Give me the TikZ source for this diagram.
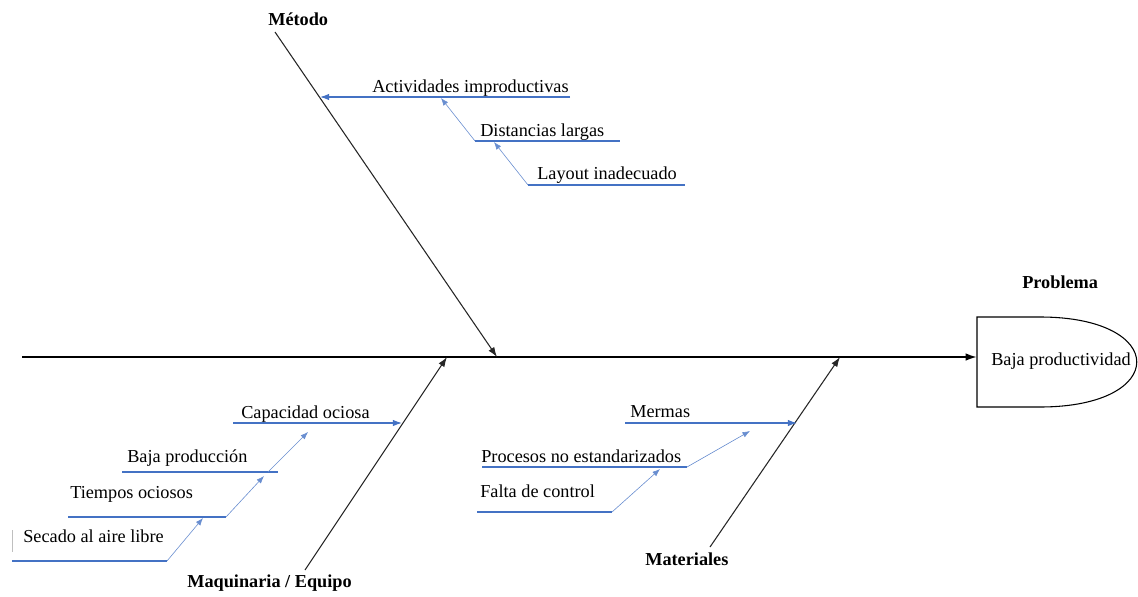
\documentclass[tikz,border=0pt]{standalone}
\usepackage{fontspec}
\setmainfont{Liberation Serif}
\usetikzlibrary{arrows.meta,positioning}
\definecolor{twigblue}{RGB}{68,114,196}
\tikzset{
  cat/.style={font=\fontsize{13.7}{16}\selectfont\bfseries, inner sep=0pt, anchor=base west},
  cause/.style={font=\fontsize{13.7}{16}\selectfont, inner sep=0pt, anchor=base west},
  spine/.style={-{Latex[length=3mm,width=2mm]}, line width=1.4pt},
  bone/.style={-{Latex[length=2.6mm,width=1.8mm]}, line width=0.8pt, black!85},
  twig/.style={-{Latex[length=2.4mm,width=1.7mm]}, line width=0.8pt, twigblue},
  sub/.style={-{Latex[length=2mm,width=1.5mm]}, line width=0.45pt, twigblue!80},
  uline/.style={line width=0.8pt, twigblue}
}

\begin{document}
\begin{tikzpicture}[x=0.75pt, y=-0.75pt]
\useasboundingbox (0,0) rectangle (1138,596);

% head of the fish
\node[cat] (prob) at (1022,288) {Problema};
\draw[line width=0.8pt] (977,317) -- (1040,317) .. controls (1169,317) and (1169,407) .. (1040,407) -- (977,407) -- cycle;
\node[cause] (head) at (991,365) {Baja productividad};
\coordinate (tail) at (22,357);
\coordinate (head-w) at (977,357);
\draw[spine] (tail) -- (head-w);

% main bones
\coordinate (met-0) at (275,32);  \coordinate (met-1) at (497,357);
\coordinate (maq-0) at (305,570); \coordinate (maq-1) at (447,357);
\coordinate (mat-0) at (710,547); \coordinate (mat-1) at (840,357);
\draw[bone] (met-0) -- (met-1);
\draw[bone] (maq-0) -- (maq-1);
\draw[bone] (mat-0) -- (mat-1);
\node[cat] (met) at (268,25) {Método};
\node[cat] (maq) at (187,587) {Maquinaria / Equipo};
\node[cat] (mat) at (645,565) {Materiales};

% Metodo
\node[cause] (act) at (372,92) {Actividades improductivas};
\node[cause] (dis) at (480,136) {Distancias largas};
\node[cause] (lay) at (537,179) {Layout inadecuado};
\coordinate (act-l) at (320,97);  \coordinate (act-r) at (570,97);
\coordinate (dis-l) at (475,141); \coordinate (dis-r) at (620,141);
\coordinate (lay-l) at (528,185); \coordinate (lay-r) at (685,185);
\coordinate (dis-tip) at (441,98); \coordinate (lay-tip) at (494,142);
\draw[twig] (act-r) -- (act-l);
\draw[uline] (dis-l) -- (dis-r);
\draw[uline] (lay-l) -- (lay-r);
\draw[sub] (dis-l) -- (dis-tip);
\draw[sub] (lay-l) -- (lay-tip);

% Maquinaria / Equipo
\node[cause] (cap) at (241,418) {Capacidad ociosa};
\node[cause] (baj) at (127,462) {Baja producción};
\node[cause] (tie) at (70,498) {Tiempos ociosos};
\node[cause] (sec) at (23,542) {Secado al aire libre};
\coordinate (cap-l) at (233,423); \coordinate (cap-r) at (402,423);
\coordinate (baj-l) at (122,472); \coordinate (baj-r) at (278,472);
\coordinate (tie-l) at (68,517);  \coordinate (tie-r) at (226,517);
\coordinate (sec-l) at (12,561);  \coordinate (sec-r) at (167,561);
\draw[twig] (cap-l) -- (cap-r);
\draw[uline] (baj-l) -- (baj-r);
\draw[uline] (tie-l) -- (tie-r);
\draw[uline] (sec-l) -- (sec-r);
\coordinate (sec-tip) at (203,518);
\coordinate (tie-tip) at (264,476);
\coordinate (baj-x) at (268,472); \coordinate (baj-tip) at (308,432);
\draw[sub] (sec-r) -- (sec-tip);
\draw[sub] (tie-r) -- (tie-tip);
\draw[sub] (baj-x) -- (baj-tip);
\draw[gray!50, line width=0.4pt] (12,530) -- (12,552);

% Materiales
\node[cause] (mer) at (630,417) {Mermas};
\node[cause] (pro) at (481,462) {Procesos no estandarizados};
\node[cause] (fal) at (480,497) {Falta de control};
\coordinate (mer-l) at (625,423); \coordinate (mer-r) at (797,423);
\coordinate (pro-l) at (482,467); \coordinate (pro-r) at (687,467);
\coordinate (fal-l) at (477,512); \coordinate (fal-r) at (612,512);
\coordinate (pro-tip) at (750,431); \coordinate (fal-tip) at (660,469);
\draw[twig] (mer-l) -- (mer-r);
\draw[uline] (pro-l) -- (pro-r);
\draw[uline] (fal-l) -- (fal-r);
\draw[sub] (pro-r) -- (pro-tip);
\draw[sub] (fal-r) -- (fal-tip);
\end{tikzpicture}
\end{document}
